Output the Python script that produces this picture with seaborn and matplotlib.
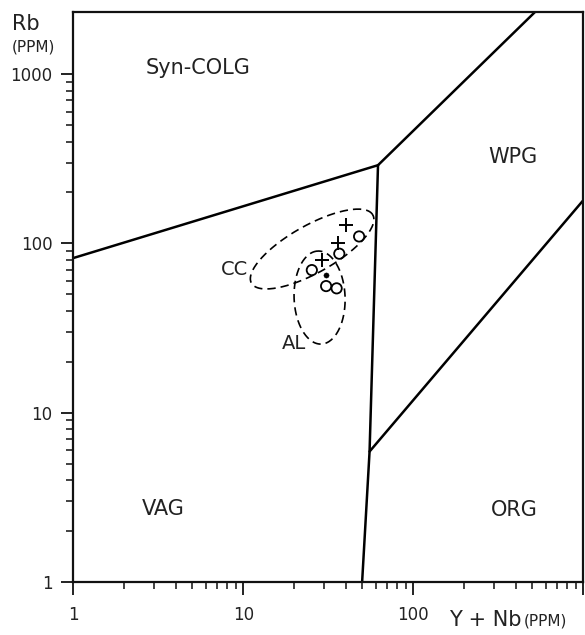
import numpy as np
import pandas as pd
import matplotlib
matplotlib.use("Agg")
import matplotlib.pyplot as plt
from matplotlib.ticker import FixedLocator, NullFormatter
import seaborn as sns

# ---- discrimination field boundaries (Y+Nb ppm, Rb ppm) ----
syn_vag_x = [1, 62]
syn_vag_y = [82, 290]
syn_wpg_x = [62, 520]
syn_wpg_y = [290, 2330]
vag_org_x = [62, 55.3, 50]
vag_org_y = [290, 5.9, 1]
wpg_org_x = [55.3, 1000]
wpg_org_y = [5.9, 180]

# ---- samples ----
plus_x = [40.0, 36.0, 29.2]
plus_y = [128, 100, 80]
circle_x = [48.0, 36.7, 25.3, 30.7, 35.4]
circle_y = [110, 87, 69.6, 56, 54.3]
dot_x = [30.5]
dot_y = [65]

# ---- dashed fields (centre, semi-axes in decades, angle in degrees) ----
ell_names = ["CC", "AL"]
ell_cx = [25.4, 28.1]
ell_cy = [92.7, 47.9]
ell_a = [0.41, 0.275]
ell_b = [0.14, 0.15]
ell_ang = [29.5, 92]
ell_lab_x = [8.9, 19.9]
ell_lab_y = [70, 25.5]

# ---- field labels ----
field_names = ["Syn-COLG", "WPG", "VAG", "ORG"]
field_x = [5.4, 387, 3.38, 392]
field_y = [1094, 322, 2.70, 2.66]

xticks = [1, 10, 100, 1000]
xticklabels = ["1", "10", "100", ""]
yticks = [1, 10, 100, 1000]
yticklabels = ["1", "10", "100", "1000"]

sns.set_style("ticks")
plt.rcParams["font.family"] = ["DejaVu Sans"]

fig = plt.figure(figsize=(5.85, 6.35), dpi=100)
ax = fig.add_axes([73.3 / 585, 53 / 635, 510 / 585, 570 / 635])
ax.set_xscale("log")
ax.set_yscale("log")

lw = 1.8
for xs, ys in [(syn_vag_x, syn_vag_y), (syn_wpg_x, syn_wpg_y),
               (vag_org_x, vag_org_y), (wpg_org_x, wpg_org_y)]:
    sns.lineplot(x=xs, y=ys, sort=False, estimator=None, color="black",
                 linewidth=lw, ax=ax)

# dashed ellipses computed in log space
t = np.linspace(0, 2 * np.pi, 300)
for cx, cy, a, b, ang in zip(ell_cx, ell_cy, ell_a, ell_b, ell_ang):
    th = np.deg2rad(ang)
    lx = np.log10(cx) + a * np.cos(t) * np.cos(th) - b * np.sin(t) * np.sin(th)
    ly = np.log10(cy) + a * np.cos(t) * np.sin(th) + b * np.sin(t) * np.cos(th)
    ax.plot(10 ** lx, 10 ** ly, color="black", linewidth=1.2,
            linestyle=(0, (5, 3)))

sns.scatterplot(x=plus_x, y=plus_y, marker="+", color="black", s=90,
                linewidth=1.4, ax=ax)
sns.scatterplot(x=circle_x, y=circle_y, marker="o", s=55, facecolor="none",
                edgecolor="black", linewidth=1.3, ax=ax)
sns.scatterplot(x=dot_x, y=dot_y, marker="o", s=14, color="black",
                edgecolor="black", ax=ax)

for name, fx, fy in zip(field_names, field_x, field_y):
    ax.text(fx, fy, name, fontsize=15, ha="center", va="center", color="#222222")
for name, fx, fy in zip(ell_names, ell_lab_x, ell_lab_y):
    ax.text(fx, fy, name, fontsize=14, ha="center", va="center", color="#222222")

ax.set_xlim(1, 1000)
ax.set_ylim(1, 2330)
ax.set_xticks(xticks, xticklabels)
ax.set_yticks(yticks, yticklabels)
minor = [m * 10 ** k for k in range(3) for m in range(2, 10)]
ax.xaxis.set_minor_locator(FixedLocator(minor))
ax.yaxis.set_minor_locator(FixedLocator(minor))
ax.xaxis.set_minor_formatter(NullFormatter())
ax.yaxis.set_minor_formatter(NullFormatter())
ax.tick_params(which="major", direction="out", length=9, width=1.4,
               labelsize=12, colors="#222222")
ax.tick_params(axis="x", which="major", pad=8)
ax.tick_params(axis="y", which="major", pad=6)
ax.tick_params(which="minor", direction="out", length=5, width=1.2,
               colors="#222222")
for sp in ax.spines.values():
    sp.set_linewidth(1.6)
    sp.set_color("#111111")
ax.set_xlabel("")
ax.set_ylabel("")
if ax.get_legend():
    ax.get_legend().remove()

fig.text(26 / 585, 1 - 24 / 635, "Rb", fontsize=15, ha="center", va="center",
         color="#222222")
fig.text(33 / 585, 1 - 47 / 635, "(PPM)", fontsize=11, ha="center",
         va="center", color="#222222")
fig.text(522 / 585, 1 - 620 / 635, "Y + Nb", fontsize=15, ha="right",
         va="center", color="#222222")
fig.text(524 / 585, 1 - 621 / 635, "(PPM)", fontsize=11, ha="left",
         va="center", color="#222222")

fig.savefig("out.png", dpi=100, facecolor="white")
